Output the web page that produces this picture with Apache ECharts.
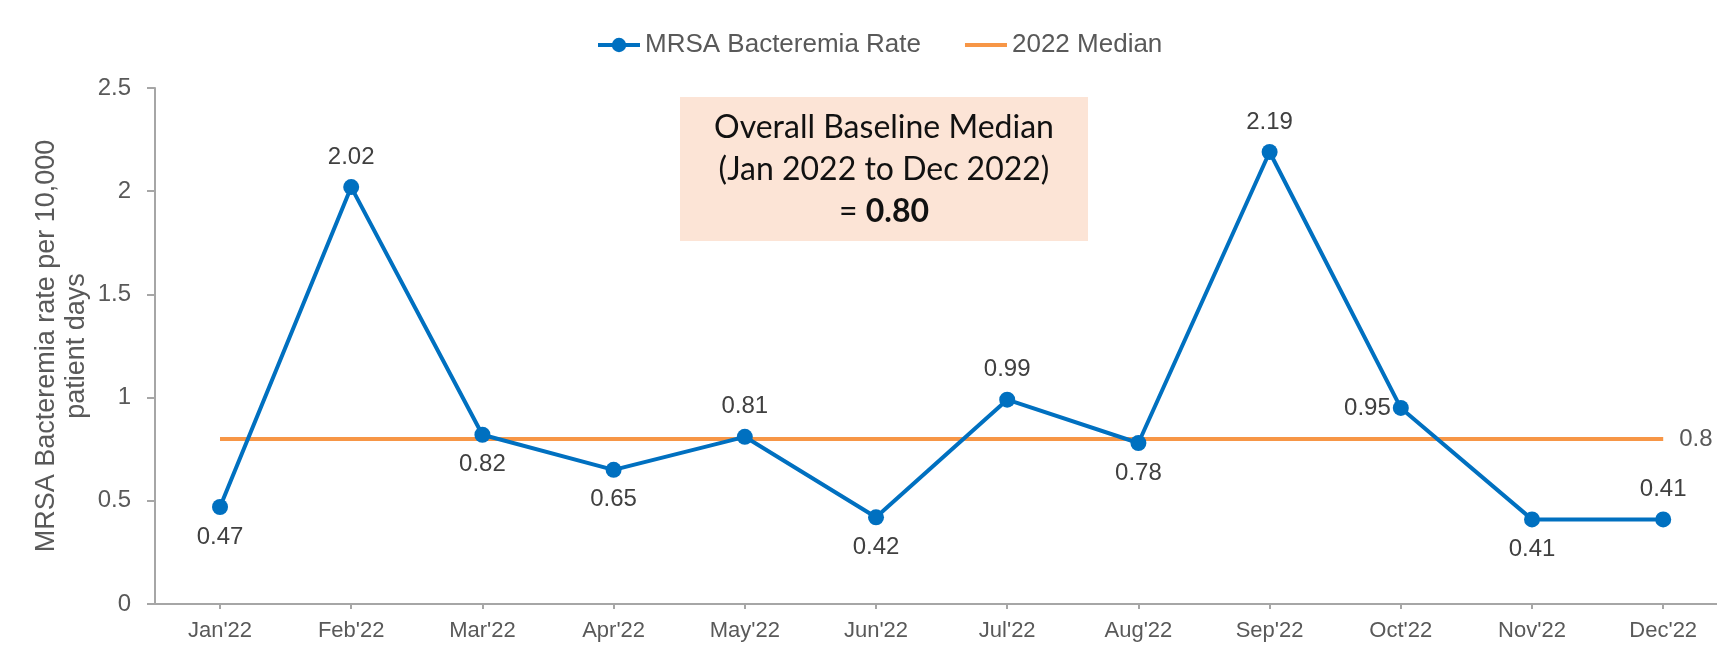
<!DOCTYPE html>
<html>
<head>
<meta charset="utf-8">
<script src="https://cdn.jsdelivr.net/npm/echarts@6/dist/echarts.min.js"></script>
<style>
  html, body { margin: 0; padding: 0; background: #ffffff; }
  #chart { width: 1717px; height: 650px; }
</style>
</head>
<body>
<div id="chart"></div>
<script>
// months on the x axis
const months = ["Jan'22", "Feb'22", "Mar'22", "Apr'22", "May'22", "Jun'22",
  "Jul'22", "Aug'22", "Sep'22", "Oct'22", "Nov'22", "Dec'22"]
// MRSA bacteremia rate per 10,000 patient days
const rates = [0.47, 2.02, 0.82, 0.65, 0.81, 0.42, 0.99, 0.78, 2.19, 0.95, 0.41, 0.41]
// 2022 median, flat line
const median = [0.8, 0.8, 0.8, 0.8, 0.8, 0.8, 0.8, 0.8, 0.8, 0.8, 0.8, 0.8]
// where each rate label sits
const labelSide = ['bottom', 'top', 'bottom', 'bottom', 'top', 'bottom',
  'top', 'bottom', 'top', 'left', 'bottom', 'top']

const FONT = '"Liberation Sans", Arial, sans-serif'
const BLUE = '#0070c0'
const ORANGE = '#f79646'
const GREY = '#595959'

const chart = echarts.init(document.getElementById('chart'))
const idx = months.map((m, i) => i)

const option = {
  backgroundColor: '#ffffff',
  animation: false,
  textStyle: { fontFamily: FONT },
  legend: {
    left: 591,
    top: 27,
    itemWidth: 42,
    itemHeight: 18,
    itemGap: 42,
    lineStyle: { width: 4 },
    textStyle: { fontSize: 26, color: GREY, fontFamily: FONT },
    data: [
      { name: 'MRSA Bacteremia Rate' },
      { name: '2022 Median', itemStyle: { opacity: 0 } }
    ]
  },
  grid: {
    left: 155,
    right: 0,
    top: 88,
    bottom: 46
  },
  xAxis: {
    type: 'value',
    min: -0.4955,
    max: 11.41,
    splitLine: { show: false },
    axisLine: { onZero: false, lineStyle: { color: '#a6a6a6', width: 2 } },
    axisTick: {
      customValues: idx,
      length: 5,
      lineStyle: { color: '#a6a6a6', width: 2 }
    },
    axisLabel: {
      customValues: idx,
      formatter: (v) => months[Math.round(v)],
      fontSize: 22,
      color: GREY,
      margin: 16
    }
  },
  yAxis: {
    type: 'value',
    min: 0,
    max: 2.5,
    interval: 0.5,
    name: 'MRSA Bacteremia rate per 10,000\npatient days',
    nameLocation: 'middle',
    nameRotate: 90,
    nameGap: 63,
    nameMoveOverlap: false,
    nameTextStyle: { fontSize: 27, color: GREY, lineHeight: 30, fontFamily: FONT },
    splitLine: { show: false },
    axisLine: { show: true, onZero: false, lineStyle: { color: '#a6a6a6', width: 2 } },
    axisTick: { show: true, length: 8, lineStyle: { color: '#a6a6a6', width: 2 } },
    axisLabel: {
      fontSize: 24,
      color: GREY,
      margin: 24,
      formatter: (v) => String(v)
    }
  },
  graphic: [
    {
      type: 'rect',
      shape: { x: 680, y: 97, width: 408, height: 144 },
      style: { fill: '#fce4d6' },
      z: 1
    },
    {
      type: 'text',
      x: 884,
      y: 170,
      z: 2,
      style: {
        text: 'Overall Baseline Median\n(Jan 2022 to Dec 2022)\n{b|= }{bb|0.80}',
        align: 'center',
        verticalAlign: 'middle',
        fontFamily: 'Lato, "Open Sans", sans-serif',
        fontSize: 32,
        lineHeight: 42,
        fill: '#111111',
        rich: {
          b: { fontSize: 32, fontFamily: 'Lato, sans-serif', fill: '#111111' },
          bb: { fontSize: 32, fontWeight: 'bold', fontFamily: 'Lato, sans-serif', fill: '#111111' }
        }
      }
    }
  ],
  series: [
    {
      name: 'MRSA Bacteremia Rate',
      type: 'line',
      data: rates.map((v, i) => ({
        value: [i, v],
        label: { position: labelSide[i], distance: labelSide[i] === 'left' ? 2 : 10 }
      })),
      symbol: 'circle',
      symbolSize: 16,
      z: 3,
      lineStyle: { color: BLUE, width: 4 },
      itemStyle: { color: BLUE },
      label: {
        show: true,
        fontSize: 24,
        color: '#404040',
        formatter: (p) => p.value[1]
      }
    },
    {
      name: '2022 Median',
      type: 'line',
      data: median.map((v, i) => [i, v]),
      symbol: 'none',
      z: 2,
      lineStyle: { color: ORANGE, width: 4 },
      itemStyle: { color: ORANGE },
      endLabel: {
        show: true,
        distance: 16,
        fontSize: 24,
        color: GREY,
        formatter: (p) => p.value[1]
      }
    }
  ]
}

chart.setOption(option)
</script>
</body>
</html>
